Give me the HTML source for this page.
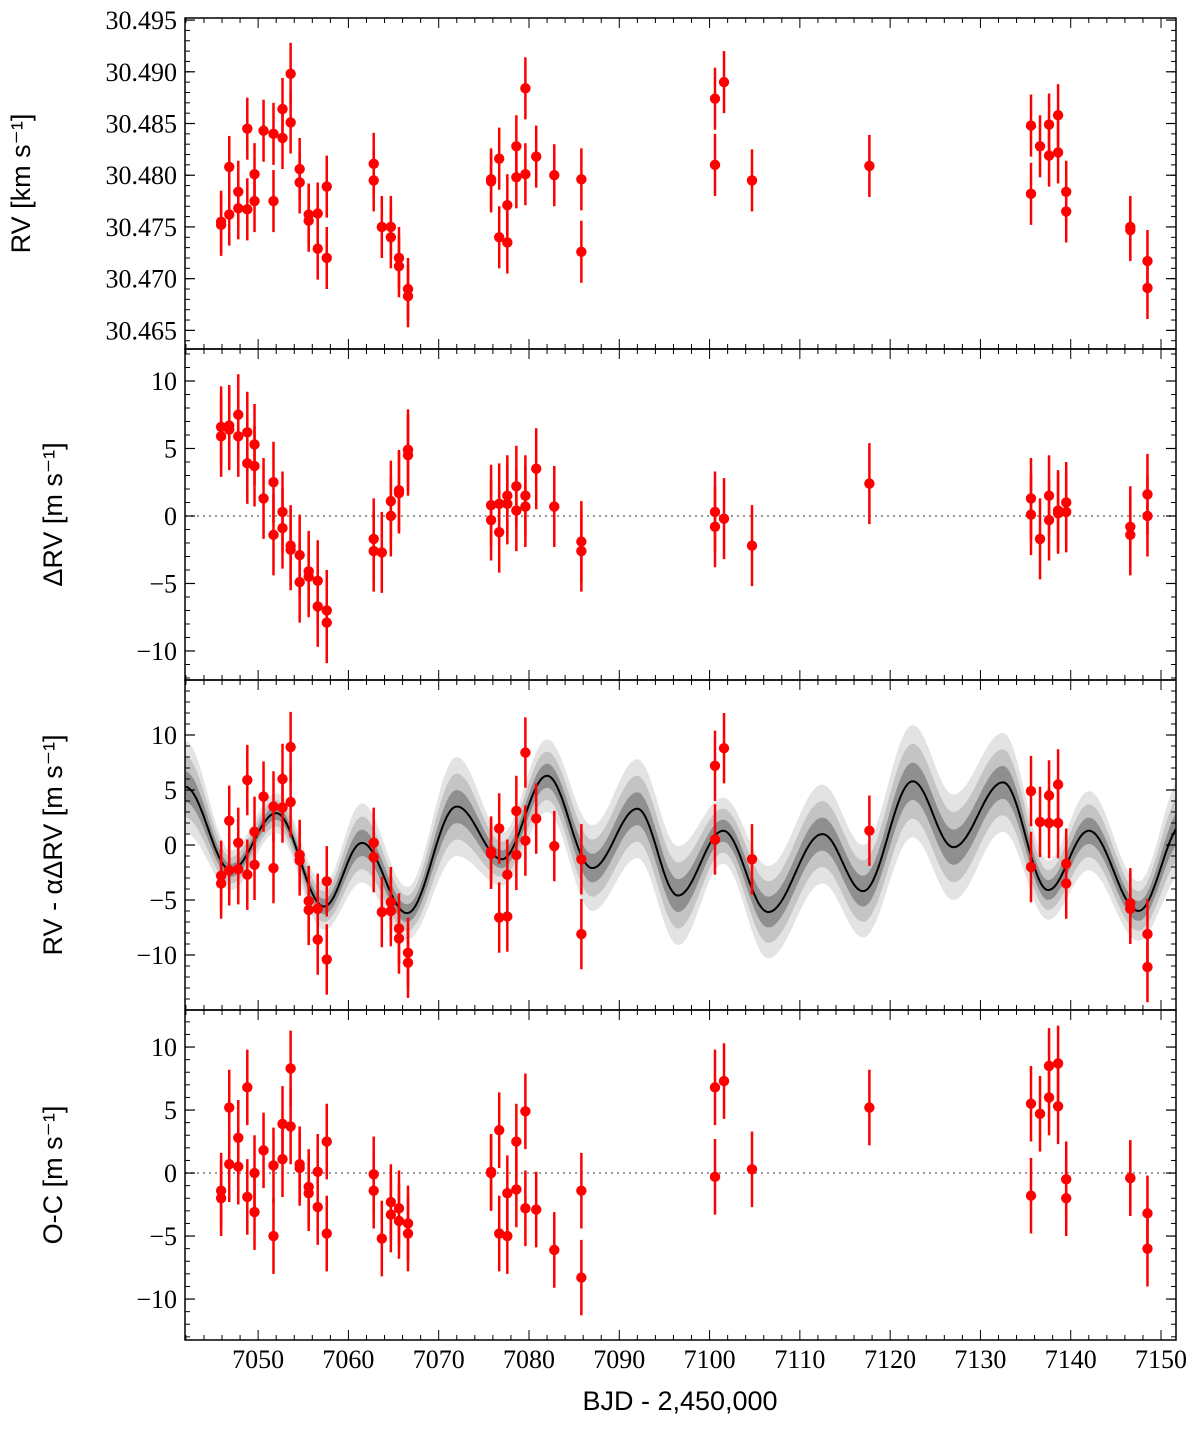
<!DOCTYPE html>
<html><head><meta charset="utf-8"><style>
body{margin:0;background:#fff}
svg text{font-family:"Liberation Serif",serif}
.lab{font-family:"Liberation Sans",sans-serif;font-size:27px}
</style></head><body>
<svg id="c" width="1200" height="1449" xmlns="http://www.w3.org/2000/svg"></svg>
<script>
// ---- data ----
const t1=[7045.9,7045.9,7046.8,7046.8,7047.8,7047.8,7048.8,7048.8,7049.6,7049.6,7050.6,7051.7,7051.7,7052.7,7052.7,7053.6,7053.6,7054.6,7054.6,7055.6,7055.6,7056.6,7056.6,7057.6,7057.6,7062.8,7062.8,7063.7,7064.7,7064.7,7065.6,7065.6,7066.6,7066.6,7075.8,7075.8,7076.7,7076.7,7077.6,7077.6,7078.6,7078.6,7079.6,7079.6,7080.8,7082.8,7085.8,7085.8,7100.6,7100.6,7101.6,7104.7,7117.7,7135.6,7135.6,7136.6,7137.6,7137.6,7138.6,7138.6,7139.5,7139.5,7146.6,7146.6,7148.5,7148.5];
const rv=[30.4755,30.4752,30.4762,30.4808,30.4784,30.4768,30.4845,30.4767,30.4801,30.4775,30.4843,30.4840,30.4775,30.4864,30.4836,30.4898,30.4851,30.4806,30.4793,30.4762,30.4756,30.4763,30.4729,30.4789,30.4720,30.4811,30.4795,30.4750,30.4750,30.4740,30.4720,30.4712,30.4690,30.4683,30.4796,30.4794,30.4740,30.4816,30.4735,30.4771,30.4828,30.4798,30.4801,30.4884,30.4818,30.4800,30.4796,30.4726,30.4874,30.4810,30.4890,30.4795,30.4809,30.4848,30.4782,30.4828,30.4849,30.4819,30.4822,30.4858,30.4784,30.4765,30.4750,30.4747,30.4717,30.4691];
const drv=[6.6,5.9,6.7,6.4,7.5,5.9,6.2,3.9,5.3,3.7,1.3,2.5,-1.4,0.3,-0.9,-2.2,-2.5,-2.9,-4.9,-4.1,-4.5,-4.8,-6.7,-7.0,-7.9,-1.7,-2.6,-2.7,1.1,0.0,1.9,1.7,4.9,4.5,0.8,-0.3,-1.2,0.9,0.9,1.5,2.2,0.4,1.5,0.7,3.5,0.7,-1.9,-2.6,0.3,-0.8,-0.2,-2.2,2.4,1.3,0.1,-1.7,1.5,-0.3,0.2,0.4,1.0,0.3,-0.8,-1.4,1.6,0.0];
const corr=[-2.8,-3.5,2.2,-2.3,0.2,-2.2,5.9,-2.7,1.2,-1.8,4.4,3.5,-2.1,6.0,3.4,8.9,3.9,-0.9,-1.4,-5.1,-5.9,-5.8,-8.6,-3.3,-10.4,0.2,-1.1,-6.1,-5.2,-6.0,-7.6,-8.5,-9.8,-10.7,-0.8,-0.6,-6.6,1.5,-6.5,-2.7,3.1,-0.9,8.4,0.4,2.4,-0.1,-1.3,-8.1,7.2,0.5,8.8,-1.3,1.3,4.9,-2.0,2.1,4.5,2.0,5.5,2.0,-1.7,-3.5,-5.3,-5.8,-8.1,-11.1];
const oc=[-1.4,-2.0,5.2,0.7,2.8,0.5,6.8,-1.9,0.0,-3.1,1.8,0.6,-5.0,3.9,1.1,8.3,3.7,0.7,0.4,-1.1,-1.6,0.1,-2.7,2.5,-4.8,-0.1,-1.4,-5.2,-2.3,-3.3,-2.8,-3.8,-4.0,-4.8,0.1,0.0,3.4,-4.8,-5.0,-1.6,2.5,-1.3,4.9,-2.8,-2.9,-6.1,-1.4,-8.3,6.8,-0.3,7.3,0.3,5.2,5.5,-1.8,4.7,8.5,6.0,8.7,5.3,-0.5,-2.0,-0.4,-0.4,-3.2,-6.0];
const modT=[7041.9,7047,7052,7057.3,7061.5,7066.5,7072,7077,7082,7087,7092,7096.5,7101.5,7106.5,7112.5,7117,7122.5,7127,7132.5,7137.5,7142,7147.5,7152.5];
const modV=[5.3,-2.3,2.9,-5.6,0.2,-6.2,3.5,-1.3,6.3,-2.1,3.3,-4.6,1.3,-6.1,1.0,-4.2,5.8,-0.2,5.7,-4.1,1.3,-6.0,2.0];
const modS=[1.4,0.6,0.6,0.7,1.2,0.8,1.5,0.8,1.1,1.3,1.5,1.5,1.0,1.4,1.5,1.4,1.7,1.6,1.5,0.9,1.2,0.9,1.5];
// ---- layout ----
const X0=185,X1=1176,T0=7041.9,T1=7151.66;
const sx=t=>X0+(t-T0)/(T1-T0)*(X1-X0);
const svg=document.getElementById('c');const NS='http://www.w3.org/2000/svg';
function el(tag,a,p){const e=document.createElementNS(NS,tag);for(const k in a)e.setAttribute(k,a[k]);(p||svg).appendChild(e);return e;}
const panels=[
 {name:'rv-panel',top:18,bot:349,ymin:30.4632,ymax:30.4952,major:[30.465,30.47,30.475,30.48,30.485,30.49,30.495],minor:0.001,fmt:v=>v.toFixed(3),y:rv,err:0.003,zero:false,title:'RV [km s⁻¹]',tx:30},
 {name:'delta-rv-panel',top:349,bot:680,ymin:-12.15,ymax:12.37,major:[-10,-5,0,5,10],minor:1,fmt:v=>v<0?'−'+(-v):''+v,y:drv,err:3.0,zero:true,title:'ΔRV [m s⁻¹]',tx:62},
 {name:'corrected-rv-panel',top:680,bot:1010,ymin:-15,ymax:15,major:[-10,-5,0,5,10],minor:1,fmt:v=>v<0?'−'+(-v):''+v,y:corr,err:3.2,zero:false,model:true,title:'RV - αΔRV [m s⁻¹]',tx:62},
 {name:'residuals-panel',top:1010,bot:1340,ymin:-13.25,ymax:12.94,major:[-10,-5,0,5,10],minor:1,fmt:v=>v<0?'−'+(-v):''+v,y:oc,err:3.0,zero:true,title:'O-C [m s⁻¹]',tx:62}
];
function modelAt(t){let i=0;while(i<modT.length-2&&t>modT[i+1])i++;const f=Math.min(1,Math.max(0,(t-modT[i])/(modT[i+1]-modT[i])));const w=(1-Math.cos(Math.PI*f))/2;return [modV[i]+(modV[i+1]-modV[i])*w,modS[i]+(modS[i+1]-modS[i])*w];}
panels.forEach((P,pi)=>{
 const g=el('g',{});
 
 
 const sy=v=>P.bot-(v-P.ymin)/(P.ymax-P.ymin)*(P.bot-P.top);
 const cl='clip'+pi;const cp=el('clipPath',{id:cl},g);el('rect',{x:X0,y:P.top,width:X1-X0,height:P.bot-P.top},cp);
 const inner=el('g',{'clip-path':'url(#'+cl+')'},g);
 if(P.model){
  const ts=[];for(let t=T0;t<=T1+0.2;t+=0.25)ts.push(t);
  [[3,'#e3e3e3'],[2,'#c4c4c4'],[1,'#8f8f8f']].forEach(([k,c])=>{
   let d='';ts.forEach((t,i)=>{const [m,s]=modelAt(t);d+=(i?'L':'M')+sx(t).toFixed(1)+','+sy(m+k*s).toFixed(1);});
   for(let i=ts.length-1;i>=0;i--){const [m,s]=modelAt(ts[i]);d+='L'+sx(ts[i]).toFixed(1)+','+sy(m-k*s).toFixed(1);}
   const b=el('path',{d:d+'Z',fill:c},inner);
   
   
  });
  let d='';ts.forEach((t,i)=>{d+=(i?'L':'M')+sx(t).toFixed(1)+','+sy(modelAt(t)[0]).toFixed(1);});
  const ml=el('path',{d:d,fill:'none',stroke:'#000','stroke-width':2},inner);
  
  
 }
 if(P.zero){const z=el('line',{x1:X0,x2:X1,y1:sy(0),y2:sy(0),stroke:'#999','stroke-width':2,'stroke-dasharray':'2,4'},inner);
  
  }
 t1.forEach((t,i)=>{const v=P.y[i];const x=sx(t);
  const e=el('line',{x1:x,x2:x,y1:sy(v-P.err),y2:sy(v+P.err),stroke:'#f00','stroke-width':2.5},inner);
  
  
  const c=el('circle',{cx:x,cy:sy(v),r:5.2,fill:'#f00'},inner);
  
  
 });
 el('rect',{x:X0,y:P.top,width:X1-X0,height:P.bot-P.top,fill:'none',stroke:'#000','stroke-width':1.5},g);
 for(let v=Math.ceil(P.ymin/P.minor)*P.minor;v<=P.ymax;v+=P.minor){const y=sy(v);
  el('line',{x1:X0,x2:X0+5,y1:y,y2:y,stroke:'#000','stroke-width':1},g);el('line',{x1:X1,x2:X1-5,y1:y,y2:y,stroke:'#000','stroke-width':1},g);}
 P.major.forEach(v=>{const y=sy(v);
  el('line',{x1:X0,x2:X0+10,y1:y,y2:y,stroke:'#000','stroke-width':1.2},g);el('line',{x1:X1,x2:X1-10,y1:y,y2:y,stroke:'#000','stroke-width':1.2},g);
  const tx=el('text',{x:X0-8,y:y+9,'text-anchor':'end','font-size':26},g);tx.textContent=P.fmt(v);
  
  });
 for(let t=7042;t<=7151;t+=2){const x=sx(t);const maj=t%10==0;const L=maj?10:5;
  el('line',{x1:x,x2:x,y1:P.bot,y2:P.bot-L,stroke:'#000','stroke-width':1},g);el('line',{x1:x,x2:x,y1:P.top,y2:P.top+L,stroke:'#000','stroke-width':1},g);
  if(pi==3&&maj){const tx=el('text',{x:x,y:P.bot+28,'text-anchor':'middle','font-size':26},g);tx.textContent=t;
   
   }}
 const yc=(P.top+P.bot)/2;
 const tt=el('text',{x:P.tx,y:yc,'text-anchor':'middle',class:'lab',transform:'rotate(-90 '+P.tx+' '+yc+')'},g);
 tt.textContent=P.title;
 
 
});
const xl=el('text',{x:680,y:1410,'text-anchor':'middle',class:'lab'});
xl.textContent='BJD - 2,450,000';


</script>
</body></html>
